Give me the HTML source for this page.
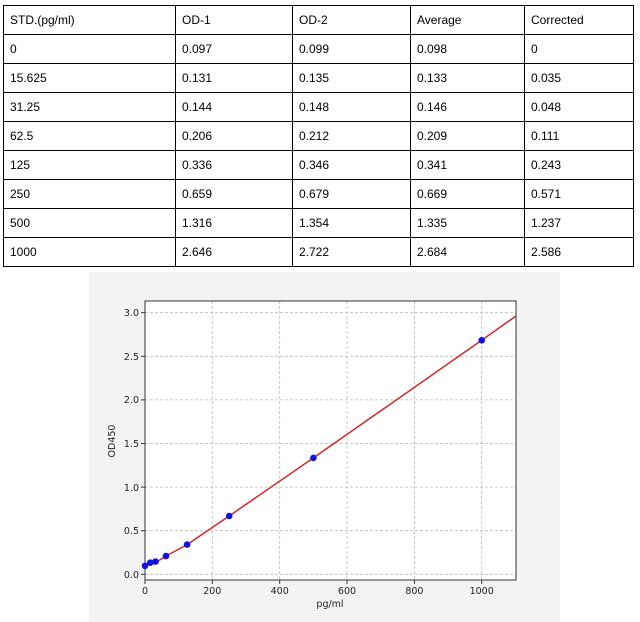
<!DOCTYPE html>
<html><head><meta charset="utf-8"><style>
body{margin:0;background:#fff;width:640px;height:622px;position:relative;overflow:hidden;font-family:"Liberation Sans",sans-serif}
table{position:absolute;left:3px;top:5px;border-collapse:collapse;font-size:12px;color:#000}
td{border:1px solid #000;height:29px;padding:0 0 0 6px;box-sizing:border-box}
</style></head><body>
<table>
<colgroup><col style="width:172px"><col style="width:117px"><col style="width:118px"><col style="width:114px"><col style="width:109px"></colgroup>
<tr><td>STD.(pg/ml)</td><td>OD-1</td><td>OD-2</td><td>Average</td><td>Corrected</td></tr>
<tr><td>0</td><td>0.097</td><td>0.099</td><td>0.098</td><td>0</td></tr>
<tr><td>15.625</td><td>0.131</td><td>0.135</td><td>0.133</td><td>0.035</td></tr>
<tr><td>31.25</td><td>0.144</td><td>0.148</td><td>0.146</td><td>0.048</td></tr>
<tr><td>62.5</td><td>0.206</td><td>0.212</td><td>0.209</td><td>0.111</td></tr>
<tr><td>125</td><td>0.336</td><td>0.346</td><td>0.341</td><td>0.243</td></tr>
<tr><td>250</td><td>0.659</td><td>0.679</td><td>0.669</td><td>0.571</td></tr>
<tr><td>500</td><td>1.316</td><td>1.354</td><td>1.335</td><td>1.237</td></tr>
<tr><td>1000</td><td>2.646</td><td>2.722</td><td>2.684</td><td>2.586</td></tr>
</table>
<svg style="position:absolute;left:0;top:0" width="640" height="622" font-family="DejaVu Sans,sans-serif" font-size="9.5" fill="#222">
<rect x="89" y="272" width="471" height="350" fill="#f3f3f3"/>
<rect x="145" y="301" width="371" height="279" fill="#fff"/>
<g stroke="#bbb" stroke-dasharray="3,2" stroke-width="0.8">
<line x1="145" x2="516" y1="574.3" y2="574.3"/><line x1="145" x2="516" y1="530.7" y2="530.7"/>
<line x1="145" x2="516" y1="487.1" y2="487.1"/><line x1="145" x2="516" y1="443.5" y2="443.5"/>
<line x1="145" x2="516" y1="399.9" y2="399.9"/><line x1="145" x2="516" y1="356.3" y2="356.3"/>
<line x1="145" x2="516" y1="312.7" y2="312.7"/>
<line y1="301" y2="580" x1="212.3" x2="212.3"/><line y1="301" y2="580" x1="279.7" x2="279.7"/>
<line y1="301" y2="580" x1="347" x2="347"/><line y1="301" y2="580" x1="414.4" x2="414.4"/>
<line y1="301" y2="580" x1="481.7" x2="481.7"/>
</g>
<rect x="145" y="301" width="371" height="279" fill="none" stroke="#333" stroke-width="1"/>
<polyline fill="none" stroke="#d62728" stroke-width="1.5" points="145,567 150.3,564 155.5,562.6 166,556 187.1,544.6 229.2,516 313.4,457.9 481.7,340.3 516,316"/>
<g fill="#1010e0">
<circle cx="145" cy="565.8" r="3.3"/><circle cx="150.3" cy="562.7" r="3.3"/><circle cx="155.5" cy="561.6" r="3.3"/>
<circle cx="166" cy="556.1" r="3.3"/><circle cx="187.1" cy="544.6" r="3.3"/><circle cx="229.2" cy="516" r="3.3"/>
<circle cx="313.4" cy="457.9" r="3.3"/><circle cx="481.7" cy="340.3" r="3.3"/>
</g>
<g stroke="#333"><line x1="141" x2="145" y1="574.3" y2="574.3"/><line x1="141" x2="145" y1="530.7" y2="530.7"/><line x1="141" x2="145" y1="487.1" y2="487.1"/><line x1="141" x2="145" y1="443.5" y2="443.5"/><line x1="141" x2="145" y1="399.9" y2="399.9"/><line x1="141" x2="145" y1="356.3" y2="356.3"/><line x1="141" x2="145" y1="312.7" y2="312.7"/>
<line y1="580" y2="584" x1="145" x2="145"/><line y1="580" y2="584" x1="212.3" x2="212.3"/><line y1="580" y2="584" x1="279.7" x2="279.7"/><line y1="580" y2="584" x1="347" x2="347"/><line y1="580" y2="584" x1="414.4" x2="414.4"/><line y1="580" y2="584" x1="481.7" x2="481.7"/></g>
<g text-anchor="end"><text x="139" y="578">0.0</text><text x="139" y="534">0.5</text><text x="139" y="491">1.0</text><text x="139" y="447">1.5</text><text x="139" y="403">2.0</text><text x="139" y="360">2.5</text><text x="139" y="316">3.0</text></g>
<g text-anchor="middle"><text x="145" y="594">0</text><text x="212.3" y="594">200</text><text x="279.7" y="594">400</text><text x="347" y="594">600</text><text x="414.4" y="594">800</text><text x="481.7" y="594">1000</text>
<text x="330" y="607">pg/ml</text>
<text transform="translate(115,441) rotate(-90)">OD450</text></g>
</svg>
</body></html>
